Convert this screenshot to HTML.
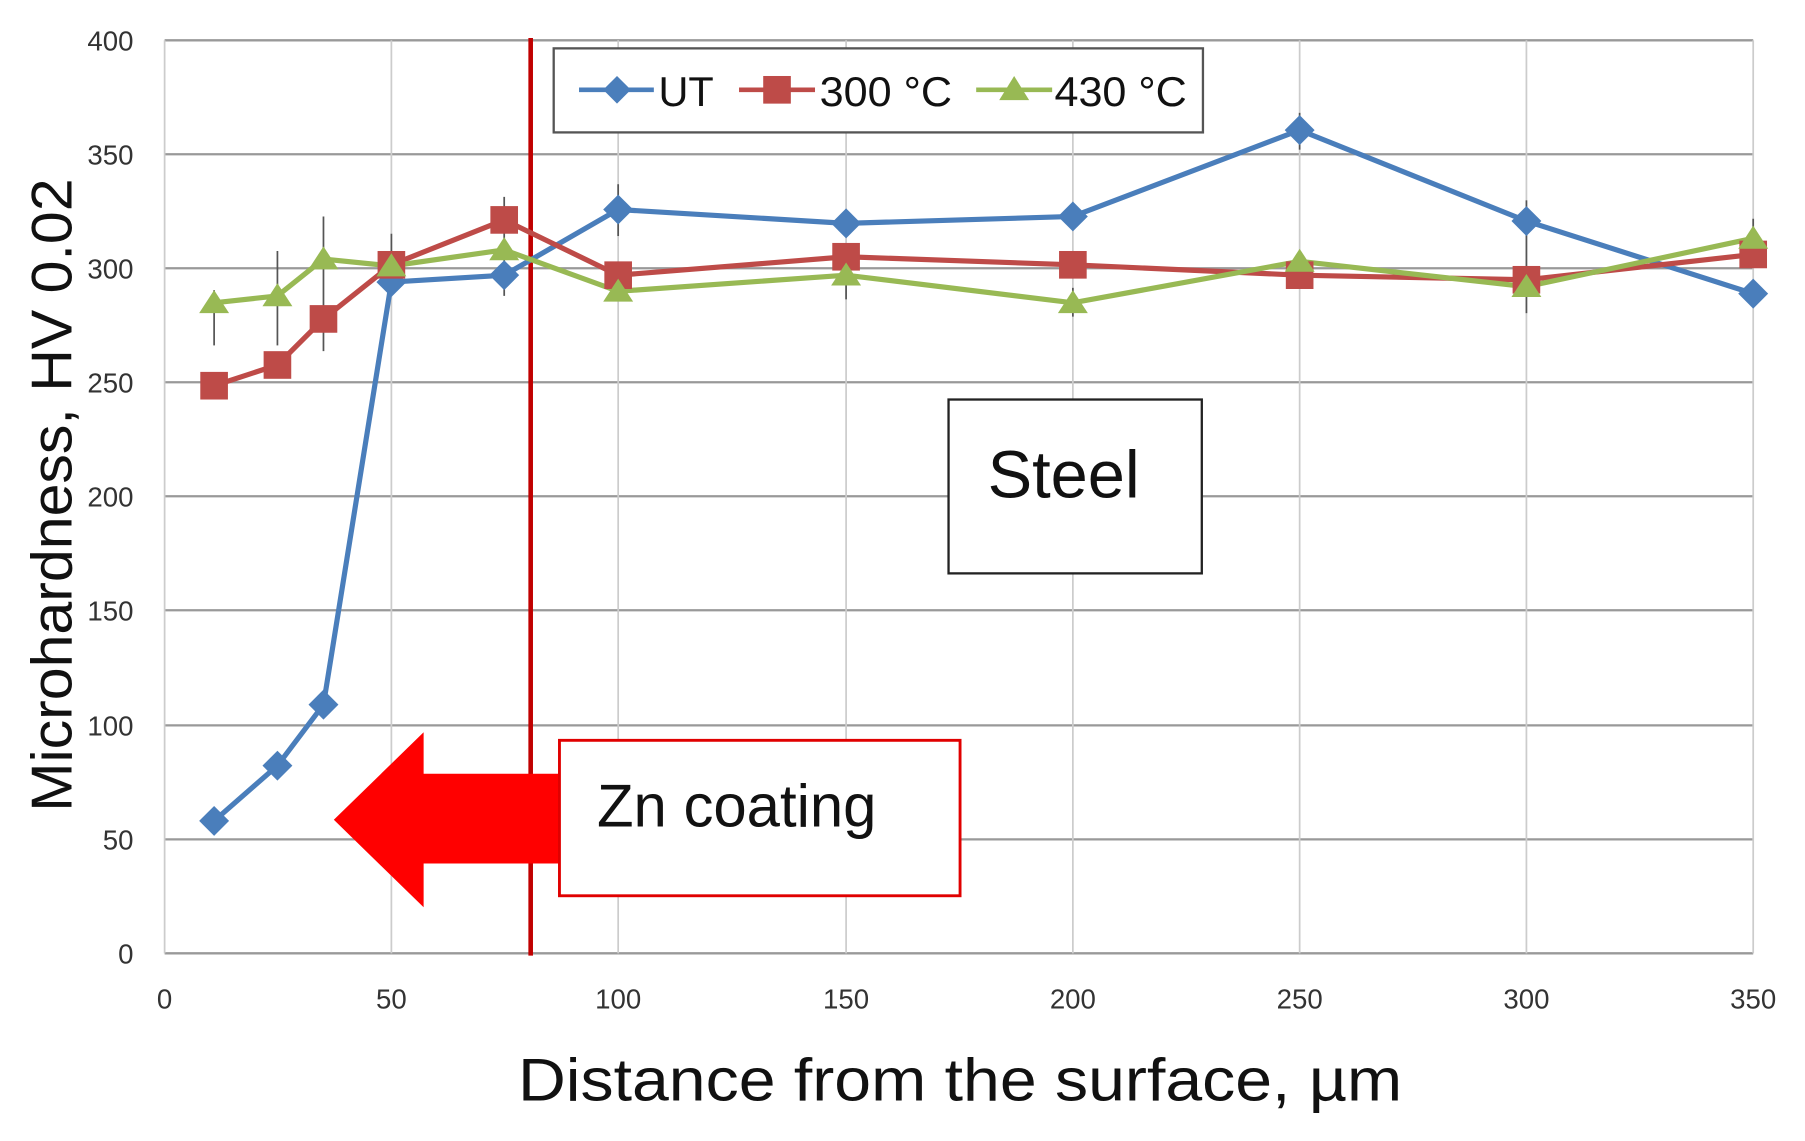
<!DOCTYPE html>
<html><head><style>html,body{margin:0;padding:0;background:#fff}svg{display:block}</style></head>
<body>
<svg width="1805" height="1141" viewBox="0 0 1568 991" preserveAspectRatio="none" font-family="Liberation Sans, sans-serif">
<rect width="1568" height="991" fill="#fff"/>
<g stroke="#999" stroke-width="2">
<line x1="143" y1="35" x2="1523" y2="35"/>
<line x1="143" y1="134" x2="1523" y2="134"/>
<line x1="143" y1="233" x2="1523" y2="233"/>
<line x1="143" y1="332" x2="1523" y2="332"/>
<line x1="143" y1="431" x2="1523" y2="431"/>
<line x1="143" y1="530" x2="1523" y2="530"/>
<line x1="143" y1="630" x2="1523" y2="630"/>
<line x1="143" y1="729" x2="1523" y2="729"/>
<line x1="143" y1="828" x2="1523" y2="828"/>
</g>
<g stroke="#ccc" stroke-width="1.5">
<line x1="143" y1="35" x2="143" y2="828"/><line x1="340" y1="35" x2="340" y2="828"/><line x1="537" y1="35" x2="537" y2="828"/><line x1="735" y1="35" x2="735" y2="828"/><line x1="932" y1="35" x2="932" y2="828"/><line x1="1129" y1="35" x2="1129" y2="828"/><line x1="1326" y1="35" x2="1326" y2="828"/><line x1="1523" y1="35" x2="1523" y2="828"/>
</g>
<g font-size="24" fill="#333" text-anchor="end">
<text x="116" y="44">400</text><text x="116" y="143">350</text><text x="116" y="242">300</text><text x="116" y="341">250</text><text x="116" y="440">200</text><text x="116" y="539">150</text><text x="116" y="639">100</text><text x="116" y="738">50</text><text x="116" y="837">0</text>
</g>
<g font-size="24" fill="#333" text-anchor="middle">
<text x="143" y="876">0</text><text x="340" y="876">50</text><text x="537" y="876">100</text><text x="735" y="876">150</text><text x="932" y="876">200</text><text x="1129" y="876">250</text><text x="1326" y="876">300</text><text x="1523" y="876">350</text>
</g>
<text x="450" y="956" font-size="52" textLength="768" lengthAdjust="spacingAndGlyphs" fill="#111">Distance from the surface, µm</text>
<text transform="translate(62,705) rotate(-90)" font-size="50" textLength="550" lengthAdjust="spacingAndGlyphs" fill="#111">Microhardness, HV 0.02</text>
<g stroke="#555" stroke-width="1.5">
<line x1="186" y1="252" x2="186" y2="300"/><line x1="241" y1="218" x2="241" y2="300"/><line x1="281" y1="188" x2="281" y2="305"/><line x1="340" y1="203" x2="340" y2="240"/><line x1="438" y1="171" x2="438" y2="257"/><line x1="537" y1="160" x2="537" y2="205"/><line x1="1129" y1="98" x2="1129" y2="130"/><line x1="1326" y1="174" x2="1326" y2="272"/><line x1="1523" y1="190" x2="1523" y2="230"/><line x1="932" y1="250" x2="932" y2="275"/><line x1="735" y1="220" x2="735" y2="260"/>
</g>
<line x1="461" y1="33" x2="461" y2="830" stroke="#c00000" stroke-width="4"/>
<polyline fill="none" stroke="#4a7ebb" stroke-width="4.5" points="186,713 241,665 281,612 340,245 438,239 537,182 735,194 932,188 1129,113 1326,192 1523,255"/>
<polyline fill="none" stroke="#be4b48" stroke-width="4.5" points="186,335 241,317 281,277 340,230 438,191 537,239 735,223 932,230 1129,239 1326,243 1523,221"/>
<polyline fill="none" stroke="#98b954" stroke-width="4.5" points="186,263 241,257 281,225 340,231 438,217 537,253 735,239 932,263 1129,227 1326,249 1523,207"/>
<g fill="#4a7ebb">
<path d="M186,700 l13,13 -13,13 -13,-13z"/><path d="M241,652 l13,13 -13,13 -13,-13z"/><path d="M281,599 l13,13 -13,13 -13,-13z"/><path d="M340,232 l13,13 -13,13 -13,-13z"/><path d="M438,226 l13,13 -13,13 -13,-13z"/><path d="M537,169 l13,13 -13,13 -13,-13z"/><path d="M735,181 l13,13 -13,13 -13,-13z"/><path d="M932,175 l13,13 -13,13 -13,-13z"/><path d="M1129,100 l13,13 -13,13 -13,-13z"/><path d="M1326,179 l13,13 -13,13 -13,-13z"/><path d="M1523,242 l13,13 -13,13 -13,-13z"/>
</g>
<g fill="#be4b48">
<rect x="174" y="323" width="24" height="24"/><rect x="229" y="305" width="24" height="24"/><rect x="269" y="265" width="24" height="24"/><rect x="328" y="218" width="24" height="24"/><rect x="426" y="179" width="24" height="24"/><rect x="525" y="227" width="24" height="24"/><rect x="723" y="211" width="24" height="24"/><rect x="920" y="218" width="24" height="24"/><rect x="1117" y="227" width="24" height="24"/><rect x="1314" y="231" width="24" height="24"/><rect x="1511" y="209" width="24" height="24"/>
</g>
<g fill="#98b954">
<path d="M186,252 l13,20 h-26z"/><path d="M241,246 l13,20 h-26z"/><path d="M281,214 l13,20 h-26z"/><path d="M340,220 l13,20 h-26z"/><path d="M438,206 l13,20 h-26z"/><path d="M537,242 l13,20 h-26z"/><path d="M735,228 l13,20 h-26z"/><path d="M932,252 l13,20 h-26z"/><path d="M1129,216 l13,20 h-26z"/><path d="M1326,238 l13,20 h-26z"/><path d="M1523,196 l13,20 h-26z"/>
</g>
<rect x="481" y="42" width="564" height="73" fill="#fff" stroke="#555" stroke-width="2"/>
<line x1="503" y1="78" x2="568" y2="78" stroke="#4a7ebb" stroke-width="4"/><path d="M536,66 l12,12 -12,12 -12,-12z" fill="#4a7ebb"/>
<text x="572" y="92" font-size="36" fill="#111">UT</text>
<line x1="642" y1="78" x2="708" y2="78" stroke="#be4b48" stroke-width="4"/><rect x="663" y="66" width="24" height="24" fill="#be4b48"/>
<text x="712" y="92" font-size="36" fill="#111" textLength="115" lengthAdjust="spacingAndGlyphs">300 °C</text>
<line x1="848" y1="78" x2="914" y2="78" stroke="#98b954" stroke-width="4"/><path d="M881,66 l13,21 h-26z" fill="#98b954"/>
<text x="916" y="92" font-size="36" fill="#111" textLength="115" lengthAdjust="spacingAndGlyphs">430 °C</text>
<rect x="824" y="347" width="220" height="151" fill="#fff" stroke="#222" stroke-width="2"/>
<text x="924" y="432" font-size="58" text-anchor="middle" fill="#111">Steel</text>
<path d="M290,712 L368,636 L368,672 L486,672 L486,750 L368,750 L368,788 Z" fill="#ff0000"/>
<rect x="486" y="643" width="348" height="135" fill="#fff" stroke="#e00000" stroke-width="2.5"/>
<text x="640" y="718" font-size="52" text-anchor="middle" fill="#111">Zn coating</text>
</svg>
</body></html>
